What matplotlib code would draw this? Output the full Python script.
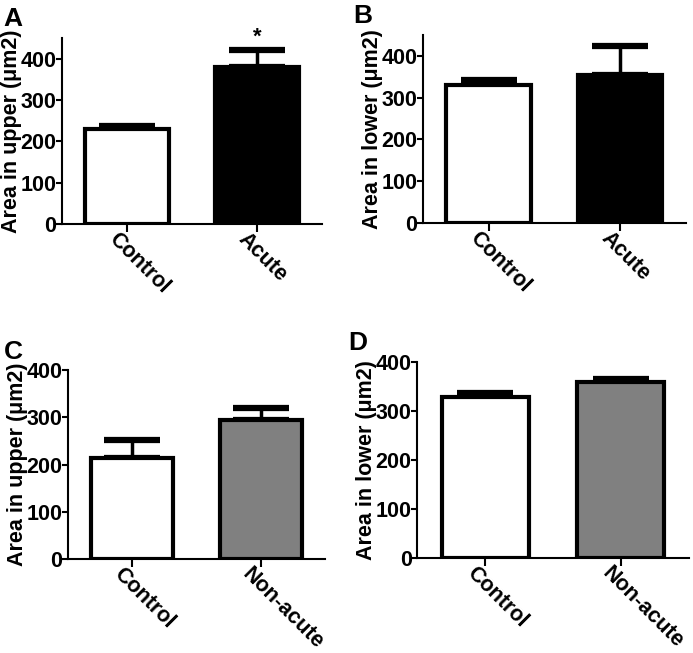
import numpy as np
from matplotlib import pyplot as plt
from matplotlib.transforms import ScaledTranslation

# Data
groups_ab = ['Control', 'Acute']
groups_cd = ['Control', 'Non-acute']
upper_acute = [230, 380] ; upper_acute_err = [8, 40]
lower_acute = [330, 355] ; lower_acute_err = [13, 68]
upper_nonacute = [215, 295] ; upper_nonacute_err = [37, 25]
lower_nonacute = [328, 358] ; lower_nonacute_err = [8, 7]

plt.rcParams['font.family'] = ['Liberation Sans', 'DejaVu Sans']
plt.rcParams['font.weight'] = 'bold'

fig = plt.figure(figsize=(6.93, 6.53), dpi=100)

panels = [
    ('A', [0.0895, 0.657, 0.375, 0.285], groups_ab, upper_acute, upper_acute_err, 'black', 'Area in upper (μm2)', 450),
    ('B', [0.610, 0.6585, 0.380, 0.288], groups_ab, lower_acute, lower_acute_err, 'black', 'Area in lower (μm2)', 450),
    ('C', [0.098, 0.144, 0.371, 0.289], groups_cd, upper_nonacute, upper_nonacute_err, '#808080', 'Area in upper (μm2)', 400),
    ('D', [0.602, 0.146, 0.392, 0.300], groups_cd, lower_nonacute, lower_nonacute_err, '#808080', 'Area in lower (μm2)', 400),
]

for letter, rect, names, vals, errs, col, ylab, ytop in panels:
    ax = fig.add_axes(rect)
    x = np.arange(len(names))
    ax.bar(x, vals, width=0.64, color=['white', col], edgecolor='black', linewidth=3, zorder=2)
    ax.errorbar(x, vals, yerr=[np.zeros(len(errs)), errs], fmt='none', ecolor='black',
                elinewidth=2.5, capsize=20, capthick=4.5, zorder=1)
    ax.set_xlim(-0.5, 1.5)
    ax.set_ylim(0, ytop)
    ax.set_yticks([0, 100, 200, 300, 400])
    ax.set_xticks(x)
    ax.set_xticklabels([''] * len(names))
    # category labels drawn as text so they can start a little before the tick
    off = ScaledTranslation(-8 / 100, -5 / 100, fig.dpi_scale_trans)
    for xi, name in zip(x, names):
        ax.text(xi, 0, name, transform=ax.get_xaxis_transform() + off, rotation=-45,
                ha='left', va='top', rotation_mode='anchor', fontsize=15.5, fontweight='bold')
    ax.tick_params(axis='y', labelsize=15.5, width=1.5, length=4, pad=0)
    ax.tick_params(axis='x', width=1.5, length=6, pad=2)
    for lab in ax.get_yticklabels():
        lab.set_fontweight('bold')
    ax.spines['top'].set_visible(False) ; ax.spines['right'].set_visible(False)
    ax.spines['left'].set_linewidth(1.5) ; ax.spines['bottom'].set_linewidth(1.5)
    ax.set_ylabel(ylab, fontsize=15.5, fontweight='bold', labelpad=-1)
    fig.text(0.005 if letter in 'AC' else rect[0] - 0.1, rect[1] + rect[3] + 0.01, letter,
             fontsize=19, fontweight='bold', va='bottom')
    if letter == 'A':
        ax.text(1, vals[1] + errs[1] + 6, '*', ha='center', va='bottom', fontsize=16, fontweight='bold')

plt.savefig('out.png', dpi=100)
